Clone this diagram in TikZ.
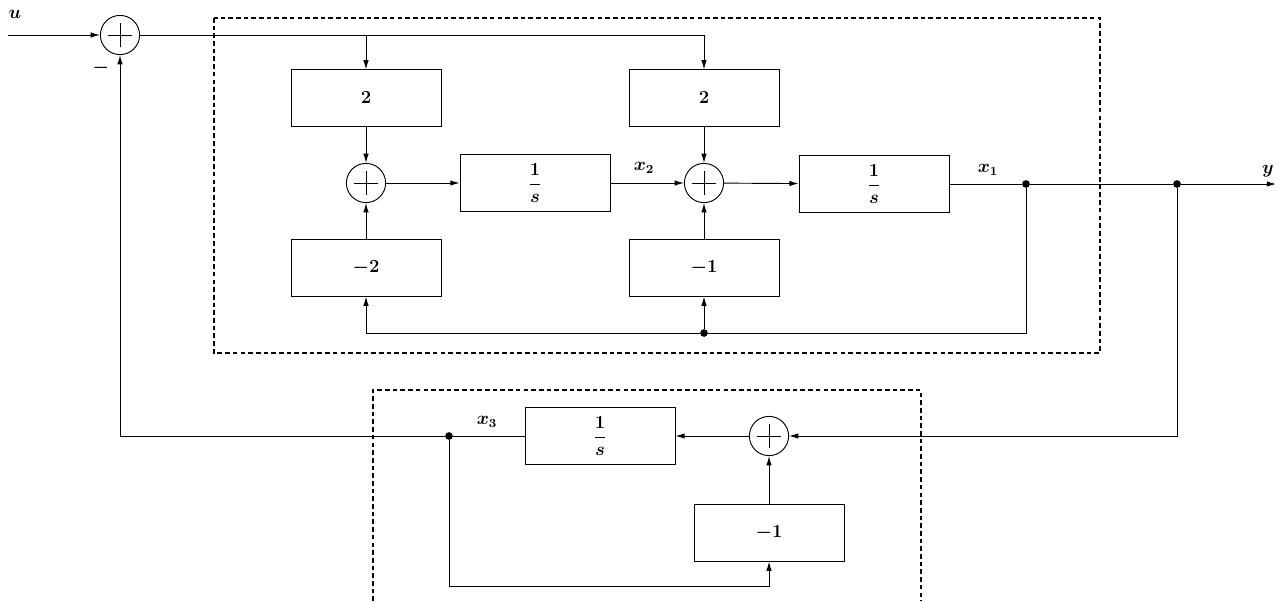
\documentclass[tikz,border=0pt]{standalone}
\usepackage{amsmath}
\usetikzlibrary{positioning, arrows.meta, calc}

\begin{document}
\begin{tikzpicture}[
  x=0.65pt, y=-0.65pt,
  font=\large\boldmath,
  blk/.style={draw, semithick, minimum width=97.5pt, minimum height=36.5pt, inner sep=0pt},
  sumj/.style={draw, semithick, circle, minimum size=25.5pt, inner sep=0pt,
    path picture={\draw
      ([xshift=-7.5pt]path picture bounding box.center) -- ([xshift=7.5pt]path picture bounding box.center)
      ([yshift=-7.5pt]path picture bounding box.center) -- ([yshift=7.5pt]path picture bounding box.center);}},
  sig/.style={-{Latex[length=6pt, width=3.5pt]}, semithick},
  wire/.style={semithick},
  dot/.style={circle, fill, inner sep=0pt, minimum size=5pt},
  frame/.style={densely dashed, thick},
  lbl/.style={inner sep=1pt},
]
  \useasboundingbox (0,0) rectangle (1283,601);

  % Input summing point
  \coordinate (uin) at (8,35);
  \node[sumj] (s1) at (120,35) {};

  % Upper subsystem
  \node[blk] (k1) at (366,98) {$2$};
  \node[blk] (k2) at (704,98) {$2$};
  \node[sumj] (s2) at (366,183) {};
  \node[blk] (i2) at (535,183) {$\dfrac{1}{s}$};
  \node[sumj] (s3) at (704,183) {};
  \node[blk] (i1) at (874,184) {$\dfrac{1}{s}$};
  \node[blk] (g2) at (366,268) {$-2$};
  \node[blk] (g1) at (704,268) {$-1$};
  \node[dot] (d1) at (1026,184) {};
  \node[dot] (d2) at (1177,184) {};
  \node[dot] (d3) at (704,333) {};
  \coordinate (yout) at (1276,184);

  % Lower subsystem
  \node[sumj] (s4) at (769,436) {};
  \node[blk] (i3) at (600,436) {$\dfrac{1}{s}$};
  \node[blk] (g3) at (769,533) {$-1$};
  \node[dot] (d4) at (449,436) {};
  \coordinate (lp) at (449,586);

  % Signal labels
  \node[lbl] (ulab) at (15,14) {$u$};
  \node[lbl] (ylab) at (1268,171) {$y$};
  \node[lbl] (x1lab) at (988,170) {$x_1$};
  \node[lbl] (x2lab) at (644,168) {$x_2$};
  \node[lbl] (x3lab) at (487,422) {$x_3$};
  \node[lbl] (neg) at (101,68) {$-$};

  % Forward paths
  \draw[sig] (uin) -- (s1);
  \draw[sig] (s1) -| (k1);
  \draw[sig] (s1) -| (k2);
  \draw[sig] (k1) -- (s2);
  \draw[sig] (g2) -- (s2);
  \draw[sig] (s2) -- (i2);
  \draw[sig] (i2) -- (s3);
  \draw[sig] (k2) -- (s3);
  \draw[sig] (g1) -- (s3);
  \draw[sig] (s3) -- (i1);
  \draw[wire] (i1) -- (d1);
  \draw[wire] (d1) -- (d2);
  \draw[sig] (d2) -- (yout);

  % Inner feedback
  \draw[wire] (d1) |- (d3);
  \draw[sig] (d3) -| (g2);
  \draw[sig] (d3) -- (g1);

  % Outer feedback
  \draw[sig] (d2) |- (s4);
  \draw[sig] (s4) -- (i3);
  \draw[wire] (i3) -- (d4);
  \draw[sig] (d4) -| (s1);
  \draw[sig] (d4) -- (lp) -| (g3);
  \draw[sig] (g3) -- (s4);

  % Subsystem frames
  \draw[frame] (214,18) rectangle (1100,353);
  \draw[frame] (373,601) -- (373,390) -- (921,390) -- (921,601);
\end{tikzpicture}
\end{document}
